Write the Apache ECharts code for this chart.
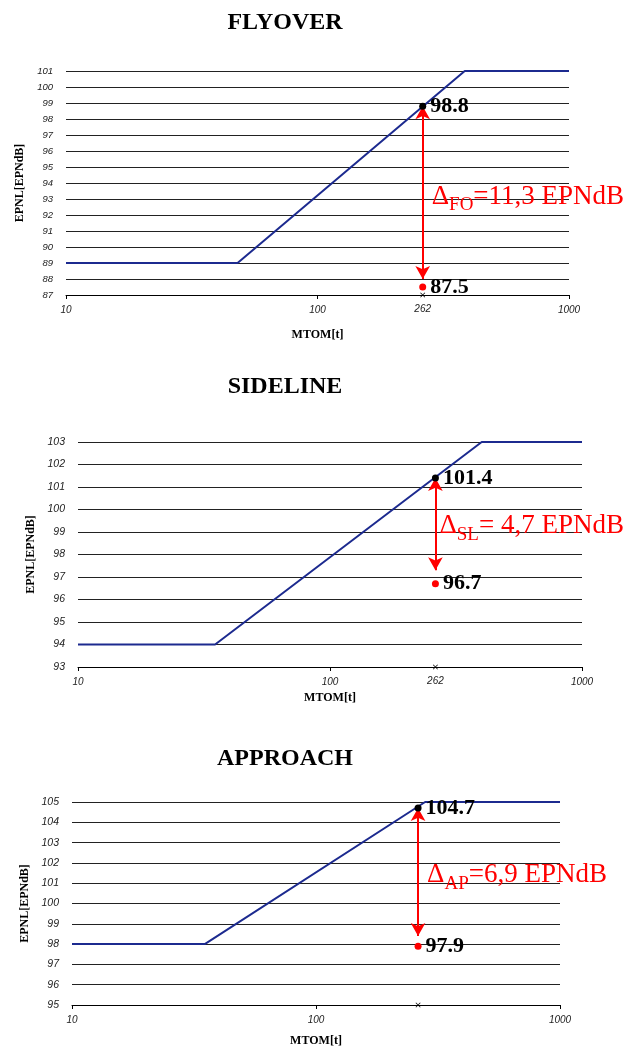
<!DOCTYPE html>
<html>
<head>
<meta charset="utf-8">
<script src="https://cdn.jsdelivr.net/npm/echarts@6/dist/echarts.min.js"></script>
<style>
  html, body { margin: 0; padding: 0; background: #fff; }
  #chart { width: 629px; height: 1048px; }
</style>
</head>
<body>
<div id="chart"></div>
<script>
// data
const titles = ['FLYOVER', 'SIDELINE', 'APPROACH'];
const mtom = 262;
const flyoverLimit = [[10, 89], [48.1, 89], [385, 101], [1000, 101]];
const sidelineLimit = [[10, 94], [35, 94], [400, 103], [1000, 103]];
const approachLimit = [[10, 98], [35, 98], [280, 105], [1000, 105]];
const limitValues = [98.8, 101.4, 104.7];
const measuredValues = [87.5, 96.7, 97.9];
const arrowEnds = [[98.8, 88.0], [101.4, 97.3], [104.7, 98.4]];
const deltaLevels = [93.0, 99.15, 101.3];
const deltaSubs = ['FO', 'SL', 'AP'];
const deltaTexts = ['=11,3 EPNdB', '= 4,7 EPNdB', '=6,9 EPNdB'];
const yRanges = [[87, 101], [93, 103], [95, 105]];
const showMtomLabel = [true, true, false];
const limits = [flyoverLimit, sidelineLimit, approachLimit];

// layout of the three panels
const grids = [
    { left: 66, right: 60, top: 71, height: 224 },
    { left: 78, right: 47, top: 442, height: 225 },
    { left: 72, right: 69, top: 802, height: 203 },
];
const titleTops = [6, 370, 742];
const xNameGaps = [34, 25, 30];
const yNameGaps = [36, 38, 36];
const yLabelSizes = [9.5, 10.5, 10.5];
const deltaGaps = [8, 3, 8];

const SERIF = '"Liberation Serif", "Times New Roman", serif';
const SANS = '"Liberation Sans", Arial, sans-serif';
const RED = '#ff0000';

const chart = echarts.init(document.getElementById('chart'));

const title = titles.map((t, i) => ({
    text: t,
    left: 280,
    textAlign: 'center',
    top: titleTops[i],
    textStyle: { fontFamily: SERIF, fontWeight: 'bold', fontSize: 24, color: '#000' },
}));

const xAxis = grids.map((g, i) => ({
    type: 'log',
    logBase: 10,
    min: 10,
    max: 1000,
    gridIndex: i,
    name: 'MTOM[t]',
    nameLocation: 'middle',
    nameGap: xNameGaps[i],
    nameTextStyle: { fontFamily: SERIF, fontWeight: 'bold', fontSize: 12, color: '#000' },
    axisLine: { show: true, lineStyle: { color: '#000', width: 1 } },
    axisTick: { show: true, inside: false, length: 4, lineStyle: { color: '#000' } },
    axisLabel: {
        fontFamily: SANS, fontStyle: 'italic', fontSize: 10, color: '#222', margin: 10,
        formatter: v => String(v),
    },
    splitLine: { show: false },
    minorTick: { show: false },
}));

const yAxis = grids.map((g, i) => ({
    type: 'value',
    gridIndex: i,
    min: yRanges[i][0],
    max: yRanges[i][1],
    interval: 1,
    name: 'EPNL[EPNdB]',
    nameLocation: 'middle',
    nameRotate: 90,
    nameGap: yNameGaps[i],
    nameTextStyle: { fontFamily: SERIF, fontWeight: 'bold', fontSize: 12, color: '#000' },
    axisLine: { show: false },
    axisTick: { show: false },
    axisLabel: { fontFamily: SANS, fontStyle: 'italic', fontSize: yLabelSizes[i], color: '#222', margin: 13 },
    splitLine: { show: true, lineStyle: { color: '#222', width: 1 } },
}));

const valueLabel = (text) => ({
    show: true,
    position: 'right',
    distance: 4,
    formatter: text,
    fontFamily: SERIF,
    fontWeight: 'bold',
    fontSize: 22,
    color: '#000',
    opacity: 1,
});

const series = [];
limits.forEach((lim, i) => {
    // limit line
    series.push({
        type: 'line',
        xAxisIndex: i,
        yAxisIndex: i,
        data: lim,
        showSymbol: false,
        lineStyle: { color: '#1c2a8f', width: 2 },
        z: 3,
        silent: true,
    });
    // 262 t marker on the axis
    series.push({
        type: 'scatter',
        xAxisIndex: i,
        yAxisIndex: i,
        data: [[mtom, yRanges[i][0]]],
        symbol: 'path://M0,1L1,0L5,4L9,0L10,1L6,5L10,9L9,10L5,6L1,10L0,9L4,5Z',
        symbolSize: 5,
        itemStyle: { color: '#000', opacity: 1 },
        clip: false,
        label: {
            show: showMtomLabel[i],
            position: 'bottom',
            distance: 7,
            formatter: String(mtom),
            fontFamily: SANS,
            fontStyle: 'italic',
            fontSize: 10,
            color: '#222',
            opacity: 1,
        },
        z: 4,
        silent: true,
    });
    // measured value (red) with the arrow
    series.push({
        type: 'scatter',
        xAxisIndex: i,
        yAxisIndex: i,
        data: [[mtom, measuredValues[i]]],
        symbolSize: 7,
        itemStyle: { color: RED, opacity: 1 },
        clip: false,
        label: valueLabel(measuredValues[i].toFixed(1)),
        markLine: {
            silent: true,
            symbol: ['arrow', 'arrow'],
            symbolSize: [11, 13],
            label: { show: false },
            lineStyle: { color: RED, width: 2, type: 'solid', opacity: 1 },
            data: [[{ coord: [mtom, arrowEnds[i][0]] }, { coord: [mtom, arrowEnds[i][1]] }]],
        },
        z: 5,
        silent: true,
    });
    // limit value (black)
    series.push({
        type: 'scatter',
        xAxisIndex: i,
        yAxisIndex: i,
        data: [[mtom, limitValues[i]]],
        symbolSize: 7,
        itemStyle: { color: '#000', opacity: 1 },
        label: valueLabel(limitValues[i].toFixed(1)),
        z: 6,
        silent: true,
    });
    // delta text
    series.push({
        type: 'scatter',
        xAxisIndex: i,
        yAxisIndex: i,
        data: [[mtom, deltaLevels[i]]],
        symbol: 'circle',
        symbolSize: 2,
        itemStyle: { color: 'rgba(0,0,0,0)', opacity: 1 },
        label: {
            show: true,
            position: 'right',
            distance: deltaGaps[i],
            opacity: 1,
            formatter: '{d|Δ}{s|' + deltaSubs[i] + '}{t|' + deltaTexts[i] + '}',
            rich: {
                d: { fontFamily: SERIF, fontSize: 27, color: RED, lineHeight: 40, verticalAlign: 'top', padding: [4, 0, 0, 0] },
                s: { fontFamily: SERIF, fontSize: 19, color: RED, lineHeight: 40, verticalAlign: 'top', padding: [17, 0, 0, 0] },
                t: { fontFamily: SERIF, fontSize: 27, color: RED, lineHeight: 40, verticalAlign: 'top', padding: [4, 0, 0, 0] },
            },
        },
        z: 6,
        silent: true,
    });
});

chart.setOption({
    backgroundColor: '#fff',
    animation: false,
    title: title,
    grid: grids,
    xAxis: xAxis,
    yAxis: yAxis,
    series: series,
});
</script>
</body>
</html>
